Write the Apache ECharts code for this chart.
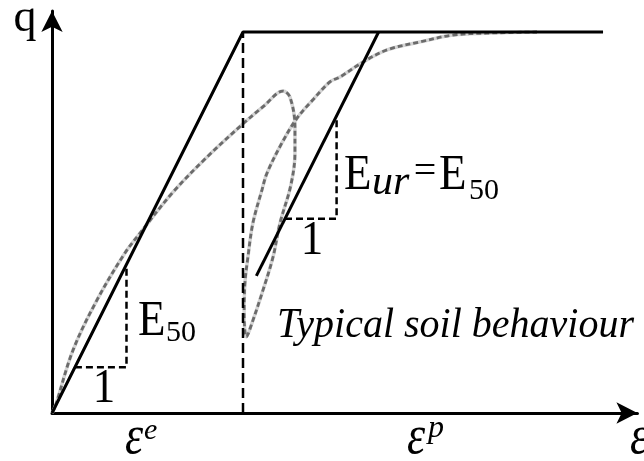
<!DOCTYPE html>
<html>
<head>
<meta charset="utf-8">
<title>Hardening soil model – q vs ε</title>
<script src="https://cdn.jsdelivr.net/npm/echarts@6/dist/echarts.min.js"></script>
<style>
  html, body { margin: 0; padding: 0; background: #fff; }
  #chart { width: 644px; height: 461px; }
</style>
</head>
<body>
<div id="chart"></div>
<script>
// Idealised bilinear model: elastic branch up to failure, then perfectly plastic plateau
const modelPath = [[0, 0], [1, 1], [2.885, 1]];
// Unloading / reloading branch (same stiffness as the elastic branch)
const reloadPath = [[1.07, 0.36], [1.71, 1.0]];
// Split between elastic and plastic strain at failure
const strainSplit = [[1, 0], [1, 1]];
// Stiffness triangles
const triangleE50 = [[0.12, 0.12], [0.39, 0.12], [0.39, 0.39]];
const triangleEur = [[1.22, 0.51], [1.49, 0.51], [1.49, 0.78]];
// Typical measured soil response with an unload/reload loop
const soilCurve = [
  [0, 0], [0.016, 0.016], [0.11, 0.165], [0.236, 0.297], [0.382, 0.42],
  [0.461, 0.472], [0.634, 0.58], [0.812, 0.672], [1.0, 0.759], [1.11, 0.806],
  [1.209, 0.845], [1.246, 0.829], [1.272, 0.751], [1.272, 0.682], [1.25, 0.597],
  [1.194, 0.499], [1.157, 0.409], [1.105, 0.323], [1.047, 0.236], [1.018, 0.2],
  [1.006, 0.26], [1.01, 0.34], [1.026, 0.41], [1.052, 0.499], [1.099, 0.585],
  [1.126, 0.63], [1.204, 0.709], [1.283, 0.774], [1.366, 0.822], [1.455, 0.869],
  [1.508, 0.882], [1.628, 0.921], [1.754, 0.953], [1.927, 0.974], [2.099, 0.992],
  [2.277, 0.997], [2.539, 1.0]
];

// Plot geometry
const X_MAX = 3.065, Y_MAX = 1.055;
const PX_PER_X = 191, PX_PER_Y = 381;
const LEFT = 52, BOTTOM = 48;

const SERIF = '"Liberation Serif", "DejaVu Serif", serif';

// Text annotation placed by its baseline
function txt(str, x, baseline, size, opts) {
  opts = opts || {};
  const s = opts.scaleY || 1;
  return {
    type: 'text',
    x: x,
    y: baseline - 0.33 * size * s,
    scaleY: s,
    z: 10,
    style: {
      text: str,
      font: (opts.italic ? 'italic ' : '') + size + 'px ' + SERIF,
      fill: '#000',
      textAlign: opts.align || 'left',
      textVerticalAlign: 'middle'
    }
  };
}

const lineSeries = (data, style, extra) => Object.assign({
  type: 'line',
  data: data,
  showSymbol: false,
  symbol: 'none',
  silent: true,
  animation: false,
  lineStyle: style
}, extra || {});

const chart = echarts.init(document.getElementById('chart'), null, { renderer: 'canvas' });

const axisCommon = {
  type: 'value',
  min: 0,
  axisLine: {
    show: true,
    onZero: false,
    symbol: ['none', 'arrow'],
    symbolSize: [16, 21],
    lineStyle: { color: '#000', width: 3 }
  },
  axisTick: { show: false },
  axisLabel: { show: false },
  splitLine: { show: false }
};

chart.setOption({
  animation: false,
  backgroundColor: '#fff',
  grid: {
    left: LEFT,
    bottom: BOTTOM,
    width: X_MAX * PX_PER_X,
    height: Y_MAX * PX_PER_Y,
    outerBoundsMode: 'none'
  },
  xAxis: Object.assign({}, axisCommon, { max: X_MAX }),
  yAxis: Object.assign({}, axisCommon, { max: Y_MAX }),
  series: [
    lineSeries(soilCurve, { color: '#d4d4d4', width: 3.5 }, { smooth: 0.35, z: 1 }),
    lineSeries(soilCurve, { color: '#6b6b6b', width: 2.8, type: [5, 3] }, { smooth: 0.35, z: 2 }),
    lineSeries(strainSplit, { color: '#000', width: 2.5, type: [10, 5] }, { z: 3 }),
    lineSeries(triangleE50, { color: '#000', width: 2.5, type: [7, 4] }, { z: 3 }),
    lineSeries(triangleEur, { color: '#000', width: 2.5, type: [7, 4] }, { z: 3 }),
    lineSeries(modelPath, { color: '#000', width: 3 }, { z: 4 }),
    lineSeries(reloadPath, { color: '#000', width: 3 }, { z: 4 })
  ],
  graphic: [
    txt('q', 25, 34, 46, { align: 'center' }),
    txt('E', 138, 338, 45, { scaleY: 1.12 }),
    txt('50', 166, 343, 30),
    txt('1', 104, 405, 45, { align: 'center', scaleY: 1.1 }),
    txt('E', 344, 192, 45, { scaleY: 1.12 }),
    txt('ur', 372, 197, 42, { italic: true }),
    txt('=', 425, 186, 40, { align: 'center' }),
    txt('E', 439, 192, 45, { scaleY: 1.12 }),
    txt('50', 469, 201, 30),
    txt('1', 312, 257, 45, { align: 'center', scaleY: 1.1 }),
    txt('Typical soil behaviour', 277, 340, 40, { italic: true, scaleY: 1.05 }),
    txt('ε', 134, 457, 46, { italic: true, align: 'center', scaleY: 1.2 }),
    txt('e', 144, 441, 30, { italic: true }),
    txt('ε', 416, 457, 46, { italic: true, align: 'center', scaleY: 1.2 }),
    txt('p', 428, 439, 32, { italic: true }),
    txt('ε', 639, 457, 46, { italic: true, align: 'center', scaleY: 1.2 })
  ]
});
</script>
</body>
</html>
